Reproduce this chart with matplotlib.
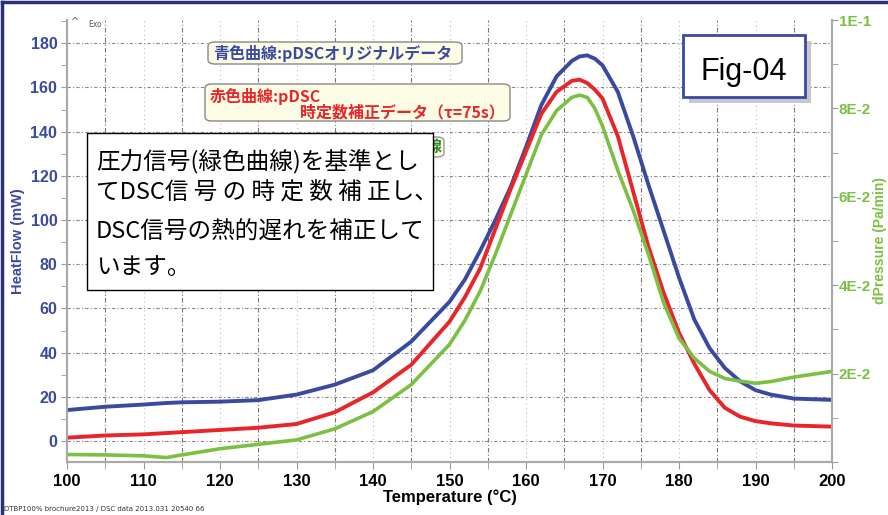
import matplotlib
matplotlib.use("Agg")
import matplotlib.pyplot as plt
from matplotlib.patches import FancyBboxPatch, Rectangle
from matplotlib.lines import Line2D
from matplotlib.ticker import MultipleLocator, FuncFormatter

# temperature (°C)
temps = [100, 105, 110, 113, 115, 120, 125, 130, 135, 140, 145, 150, 152, 154, 156, 158,
         160, 162, 164, 166, 167, 168, 169, 170, 172, 174, 176, 178, 180, 182, 184, 186,
         188, 190, 192, 195, 200]
# blue: pDSC original heat flow (mW)
heatflow_orig = [14, 15.5, 16.5, 17.2, 17.5, 17.8, 18.5, 21, 25.5, 32, 45, 63, 73, 86, 100, 115,
                 133, 152, 165, 172, 174, 174.5, 173, 170, 158, 138, 116, 95, 74, 55, 42, 33,
                 27, 23, 21, 19.2, 18.6]
# red: time-constant corrected heat flow (mW)
heatflow_corr = [1.5, 2.5, 3, 3.6, 4, 5, 6, 7.7, 13, 22, 34.5, 54, 65, 78, 96, 114,
                 131, 148, 158, 163, 163.5, 162, 159, 155, 138, 113, 88, 67, 49, 35, 23, 15,
                 11, 9, 8, 7, 6.5]
# green: dPressure (Pa/min)
dpressure = [0.0017, 0.0016, 0.0014, 0.0010, 0.0016, 0.0030, 0.0040, 0.0050, 0.0075, 0.0114,
             0.0175, 0.0266, 0.032, 0.0386, 0.047, 0.056, 0.065, 0.074, 0.0795, 0.0825, 0.083,
             0.0825, 0.080, 0.076, 0.066, 0.057, 0.047, 0.036, 0.028, 0.0235, 0.0205, 0.0189,
             0.0183, 0.0178, 0.0182, 0.0192, 0.0205]

BLUE = "#3a4aa0"
RED = "#e8262a"
GREEN = "#7bc043"
JP = ["Noto Sans CJK JP", "DejaVu Sans"]
W, H = 888, 515


def px(x, y):
    return x / W, 1 - y / H


fig = plt.figure(figsize=(8.88, 5.15), dpi=100)
ax = fig.add_axes([67 / W, 1 - 462 / H, (832 - 67) / W, (462 - 20) / H])
ax2 = ax.twinx()

ax.set_xlim(100, 200)
ax.set_ylim(-9.5, 190.5)
ax2.set_ylim(0, 0.1)

# grid
for t in range(105, 200, 10):
    ax.axvline(t, color="#777777", lw=0.8, ls=(0, (4, 2, 1, 2)), zorder=0)
for t in range(110, 200, 10):
    ax.axvline(t, color="#bbbbbb", lw=0.8, ls=(0, (1, 3)), zorder=0)
for v in range(0, 181, 20):
    ax.axhline(v, color="#888888", lw=0.8, ls=(0, (3, 2, 1, 2)), zorder=0)

ax.plot(temps, heatflow_orig, color=BLUE, lw=2.8, zorder=3)
ax.plot(temps, heatflow_corr, color=RED, lw=2.8, zorder=4)
ax2.plot(temps, dpressure, color=GREEN, lw=2.6, zorder=2)

ax.spines["top"].set_visible(False)
ax2.spines["top"].set_visible(False)
for a in (ax, ax2):
    for s in ["left", "right", "bottom"]:
        a.spines[s].set_color("#aaaaaa")
        a.spines[s].set_linewidth(1.5)

ax.xaxis.set_major_locator(MultipleLocator(10))
ax.xaxis.set_minor_locator(MultipleLocator(5))
ax.set_yticks(range(0, 181, 20))
ax.yaxis.set_minor_locator(MultipleLocator(10))
ax2.yaxis.set_major_locator(MultipleLocator(0.02))
ax2.yaxis.set_minor_locator(MultipleLocator(0.01))
ax2.yaxis.set_major_formatter(FuncFormatter(
    lambda v, p: "" if v < 0.01 else ("1E-1" if v > 0.099 else "%dE-2" % round(v * 100))))

ax.tick_params(axis="x", which="both", colors="#999999", labelcolor="black", labelsize=12, length=5, pad=4)
ax.tick_params(axis="y", which="both", colors="#999999", labelcolor=BLUE, labelsize=11.5, length=4, pad=3)
ax2.tick_params(axis="y", which="both", colors="#999999", labelcolor=GREEN, labelsize=11, length=4, pad=1)
for lab in ax.get_xticklabels() + ax.get_yticklabels() + ax2.get_yticklabels():
    lab.set_fontweight("bold")
    lab.set_family("Liberation Sans")

ax.set_xlabel("Temperature (°C)", fontsize=12, fontweight="bold", family="Liberation Sans", labelpad=0)
ax.set_ylabel("HeatFlow (mW)", fontsize=10.5, fontweight="bold", color=BLUE, family="Liberation Sans", labelpad=4)
# right axis label placed directly so it stays inside the figure
fig.text(*px(880, 241), "dPressure (Pa/min)", fontsize=10, fontweight="bold", color=GREEN,
         family="Liberation Sans", rotation=90, ha="center", va="center")

# outer frame (top and left)
fig.add_artist(Line2D([0.002, 0.002], [0, 0.996], transform=fig.transFigure, color="#2b2f7a", lw=2.5))
fig.add_artist(Line2D([0.002, 1], [0.996, 0.996], transform=fig.transFigure, color="#2b2f7a", lw=2.5))

# Exo marker
fig.text(*px(71, 25), "^", fontsize=7, color="#666666")
fig.text(*px(88, 27), "Exo", fontsize=5.5, color="#555555")

# footer
fig.text(*px(4, 511), "DTBP100% brochure2013 / DSC data 2013.031 20540 66", fontsize=5, color="#333333")


def label_box(x0, y0, x1, y1, ec, z=5):
    bx, by = px(x0, y1)
    box = FancyBboxPatch((bx, by), (x1 - x0) / W, (y1 - y0) / H,
                         boxstyle="round,pad=0,rounding_size=0.008", transform=fig.transFigure,
                         fc="#fdfde6", ec=ec, lw=1, zorder=z)
    fig.add_artist(box)


# green label box, mostly hidden behind the explanation box
label_box(300, 137, 444, 157, "#999999", z=5)
fig.text(*px(442, 147), "線", family=JP, fontsize=11.5, fontweight="bold",
         color="#2e8b2e", ha="right", va="center", zorder=6)

label_box(208, 42, 462, 64, "#888888")
fig.text(*px(213, 53), "青色曲線:pDSCオリジナルデータ", family=JP, fontsize=11.5, fontweight="bold",
         color=BLUE, va="center", zorder=6)

label_box(205, 84, 510, 121, "#888888")
fig.text(*px(210, 96), "赤色曲線:pDSC", family=JP, fontsize=11.5, fontweight="bold",
         color=RED, va="center", zorder=6)
fig.text(*px(505, 112), "時定数補正データ（τ=75s）", family=JP, fontsize=11.5, fontweight="bold",
         color=RED, va="center", ha="right", zorder=6)

# white explanation box
bx, by = px(87, 290)
fig.add_artist(Rectangle((bx, by), (433 - 87) / W, (290 - 133) / H, transform=fig.transFigure,
                         fc="white", ec="black", lw=1, zorder=7))
lines = ["圧力信号(緑色曲線)を基準とし", "てDSC信 号 の 時 定 数 補 正し、",
         "DSC信号の熱的遅れを補正して", "います。"]
for txt, yy in zip(lines, [162, 193, 232, 267]):
    fig.text(*px(96, yy), txt, family=JP, fontsize=17, color="black", va="center", zorder=8)

# Fig-04 box with shadow
sx, sy = px(689, 103)
fig.add_artist(Rectangle((sx, sy), 122 / W, 62 / H, transform=fig.transFigure,
                         fc="#c8c8c8", ec="none", zorder=7))
fx, fy = px(683, 97)
fig.add_artist(Rectangle((fx, fy), 122 / W, 62 / H, transform=fig.transFigure,
                         fc="white", ec="#3a4aa0", lw=2, zorder=8))
fig.text(*px(744, 72), "Fig-04", family="Liberation Sans", fontsize=22, color="black",
         ha="center", va="center", zorder=9)

fig.savefig("out.png", dpi=100)
